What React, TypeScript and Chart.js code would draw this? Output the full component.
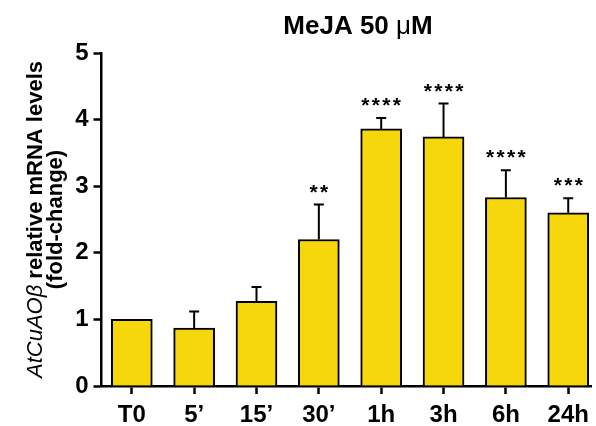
import { useEffect, useRef } from 'react';
import { Chart, registerables } from 'chart.js';

Chart.register(...registerables);

const categories = ['T0', '5’', '15’', '30’', '1h', '3h', '6h', '24h'];
const means = [1.0, 0.87, 1.27, 2.2, 3.86, 3.74, 2.83, 2.6];
const errors = [0, 0.25, 0.215, 0.525, 0.165, 0.5, 0.41, 0.22];
const significance = ['', '', '', '**', '****', '****', '****', '***'];
const yTickValues = [0, 1, 2, 3, 4, 5];
const titleParts = [
  { text: 'MeJA 50 ', bold: true },
  { text: 'μ', bold: false },
  { text: 'M', bold: true },
];
const yLabelLine1 = [
  { text: 'AtCuAOβ', italic: true, bold: false },
  { text: ' relative mRNA levels', italic: false, bold: true },
];
const yLabelLine2 = '(fold-change)';

const FAMILY = 'Arial, "Liberation Sans", sans-serif';
const BAR_COLOR = '#F6D70B';

const annotatePlugin = {
  id: 'annotate',
  afterDatasetsDraw(chart: any) {
    const ctx = chart.ctx;
    const xs = chart.scales.x;
    const ys = chart.scales.y;
    ctx.save();
    ctx.strokeStyle = '#000';
    ctx.lineWidth = 2;
    ctx.fillStyle = '#000';
    means.forEach((m, i) => {
      const x = xs.getPixelForValue(i);
      const yTop = ys.getPixelForValue(m);
      const yCap = ys.getPixelForValue(m + errors[i]);
      if (errors[i] > 0) {
        ctx.beginPath();
        ctx.moveTo(x, yTop);
        ctx.lineTo(x, yCap);
        ctx.moveTo(x - 5, yCap);
        ctx.lineTo(x + 5, yCap);
        ctx.stroke();
      }
      const s = significance[i];
      if (s) {
        ctx.font = `bold 21px ${FAMILY}`;
        ctx.textAlign = 'center';
        ctx.textBaseline = 'alphabetic';
        const n = s.length;
        for (let k = 0; k < n; k++) {
          ctx.fillText('*', x + (k - (n - 1) / 2) * 10.5, yCap - 6);
        }
      }
    });
    ctx.restore();
  },
  afterDraw(chart: any) {
    const ctx = chart.ctx;
    ctx.save();
    ctx.fillStyle = '#000';
    ctx.textBaseline = 'alphabetic';
    ctx.textAlign = 'left';
    // title
    const tf = (b: boolean) => `${b ? 'bold ' : ''}26px ${FAMILY}`;
    let total = 0;
    titleParts.forEach((p) => {
      ctx.font = tf(p.bold);
      total += ctx.measureText(p.text).width;
    });
    let tx = 358 - total / 2;
    titleParts.forEach((p) => {
      ctx.font = tf(p.bold);
      ctx.fillText(p.text, tx, 34);
      tx += ctx.measureText(p.text).width;
    });
    // y label
    const lf = (p: any) => `${p.italic ? 'italic ' : ''}${p.bold ? 'bold ' : ''}22px ${FAMILY}`;
    const cy = (chart.chartArea.top + chart.chartArea.bottom) / 2;
    ctx.translate(42, cy);
    ctx.rotate(-Math.PI / 2);
    let w1 = 0;
    yLabelLine1.forEach((p) => {
      ctx.font = lf(p);
      w1 += ctx.measureText(p.text).width;
    });
    let lx = -w1 / 2;
    yLabelLine1.forEach((p) => {
      ctx.font = lf(p);
      ctx.fillText(p.text, lx, 0);
      lx += ctx.measureText(p.text).width;
    });
    ctx.font = `bold 22px ${FAMILY}`;
    ctx.textAlign = 'center';
    ctx.fillText(yLabelLine2, 0, 20);
    ctx.restore();
  },
};

export default function App() {
  const ref = useRef<HTMLCanvasElement>(null);
  useEffect(() => {
    if (!ref.current) return;
    const chart = new Chart(ref.current, {
      type: 'bar',
      data: {
        datasets: [
          {
            data: means.map((v, i) => ({ x: i, y: v })),
            backgroundColor: BAR_COLOR,
            borderColor: '#000',
            borderWidth: 2,
            barThickness: 41,
          },
        ],
      },
      options: {
        responsive: false,
        animation: false,
        events: [],
        layout: { padding: { top: 53, right: 2, bottom: 0, left: 0 } },
        plugins: { legend: { display: false }, tooltip: { enabled: false }, title: { display: false } },
        scales: {
          x: {
            type: 'linear',
            min: -0.486,
            max: 7.369,
            offset: false,
            afterBuildTicks: (scale: any) => {
              scale.ticks = categories.map((_, i) => ({ value: i }));
            },
            afterFit: (scale: any) => {
              scale.height = 40;
            },
            grid: { drawOnChartArea: false, offset: false, tickLength: 8, tickWidth: 2.5, tickColor: '#000' },
            border: { color: '#000', width: 2.5 },
            ticks: {
              autoSkip: false,
              maxRotation: 0,
              padding: 7,
              color: '#000',
              font: { family: FAMILY, size: 24, weight: 'bold' },
              callback: (v: any) => categories[v] ?? '',
            },
          },
          y: {
            min: 0,
            max: 5,
            afterBuildTicks: (scale: any) => {
              scale.ticks = yTickValues.map((v) => ({ value: v }));
            },
            afterFit: (scale: any) => {
              scale.width = 101.5;
            },
            grid: { drawOnChartArea: false, tickLength: 8, tickWidth: 2.5, tickColor: '#000' },
            border: { color: '#000', width: 2.5 },
            ticks: {
              padding: 5,
              color: '#000',
              font: { family: FAMILY, size: 24, weight: 'bold' },
            },
          },
        },
      } as any,
      plugins: [annotatePlugin],
    });
    return () => chart.destroy();
  }, []);
  return (
    <div style={{ position: 'absolute', left: 0, top: 0, width: 596, height: 426, background: '#fff' }}>
      <canvas ref={ref} width={596} height={426} style={{ display: 'block' }} />
    </div>
  );
}
